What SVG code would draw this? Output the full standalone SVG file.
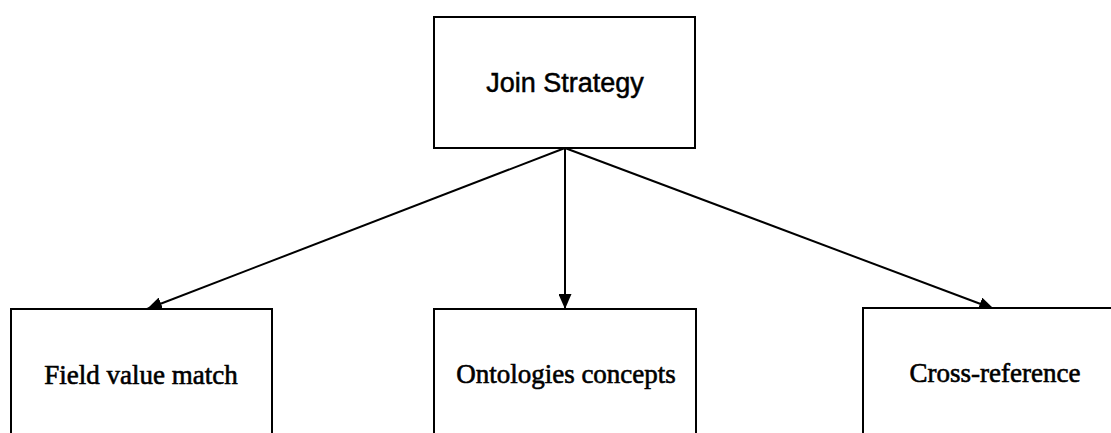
<svg xmlns="http://www.w3.org/2000/svg" width="1111" height="433" viewBox="0 0 1111 433">
<style>
.box{fill:#fff;stroke:#000;stroke-width:2}
.conn{stroke:#000;stroke-width:2;fill:none}
.sans{font-family:"Liberation Sans",Arial,sans-serif;font-size:27px;fill:#000;stroke:#000;stroke-width:0.5}
.serif{font-family:"Liberation Serif","Times New Roman",serif;font-size:27px;fill:#000;stroke:#000;stroke-width:0.6}
</style>
<defs>
<marker id="arr" viewBox="0 0 15 13" refX="15" refY="6.5" markerWidth="15" markerHeight="13" markerUnits="userSpaceOnUse" orient="auto">
<path d="M0,0 L15,6.5 L0,13 Z" fill="#000"/>
</marker>
</defs>
<rect width="1111" height="433" fill="#fff"/>
<g id="connectors">
<line class="conn" x1="565" y1="148" x2="147" y2="309" marker-end="url(#arr)"/>
<line class="conn" x1="565" y1="148" x2="565" y2="309" marker-end="url(#arr)"/>
<line class="conn" x1="565" y1="148" x2="994" y2="309" marker-end="url(#arr)"/>
</g>
<g id="join-strategy">
<rect class="box" x="434" y="17" width="261" height="131"/>
<text class="sans" x="565" y="92" text-anchor="middle">Join Strategy</text>
</g>
<g id="field-value-match">
<rect class="box" x="11" y="309" width="261" height="140"/>
<text class="serif" x="141" y="384" text-anchor="middle">Field value match</text>
</g>
<g id="ontologies-concepts">
<rect class="box" x="434" y="309" width="262" height="140"/>
<text class="serif" x="566" y="383" text-anchor="middle">Ontologies concepts</text>
</g>
<g id="cross-reference">
<rect class="box" x="863" y="308" width="265" height="140"/>
<text class="serif" x="995" y="382" text-anchor="middle">Cross-reference</text>
</g>
</svg>
